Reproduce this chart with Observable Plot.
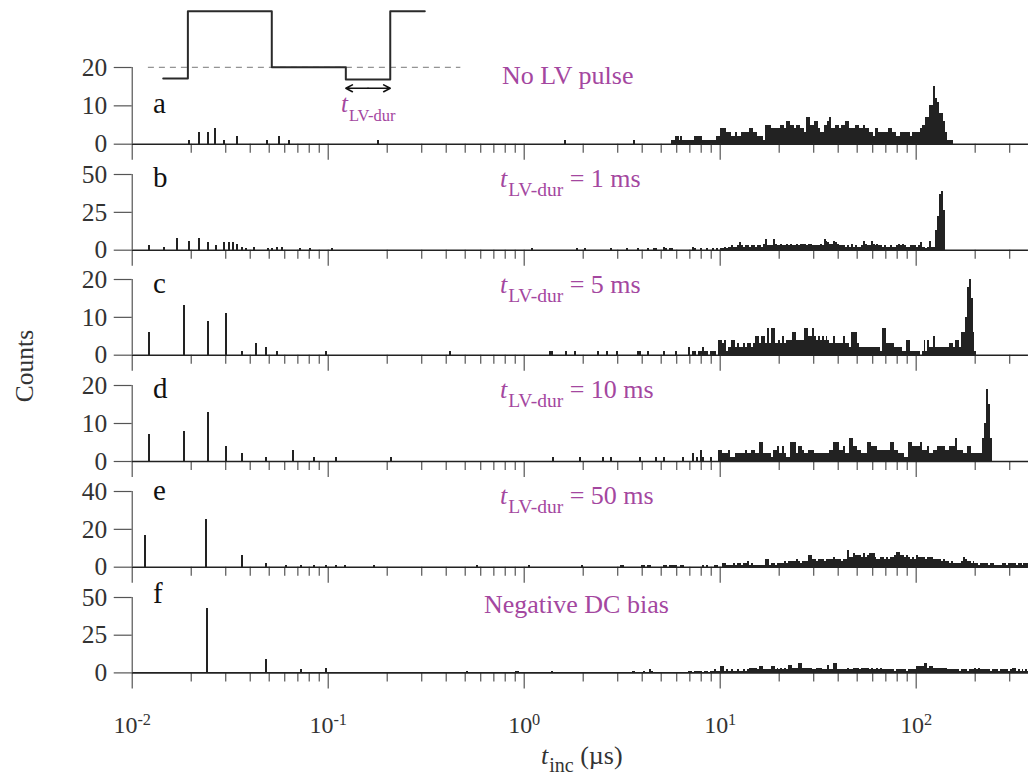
<!DOCTYPE html>
<html><head><meta charset="utf-8">
<script src="https://cdn.jsdelivr.net/npm/d3@7"></script>
<script src="https://cdn.jsdelivr.net/npm/@observablehq/plot@0.6"></script>
<style>
body{margin:0;background:#fff;}
#chart{position:relative;width:1028px;height:780px;overflow:hidden;background:#fff;}
#chart svg{position:absolute;left:0;}
</style></head><body><div id="chart"></div><script>
// ---------------- data ----------------
const binsPerDecade = 100;      // log-spaced histogram bins
const tStart = 0.01;            // µs, left edge of axis / bin 0
const tEnd = 374;
const panelLetters = ["a", "b", "c", "d", "e", "f"];
const panelNotes = ["No LV pulse", "= 1 ms", "= 5 ms", "= 10 ms", "= 50 ms", "Negative DC bias"];
const noteHasT = [false, true, true, true, true, false];
const yMax = [20, 50, 20, 20, 40, 50];
const yTicks = [[0, 10, 20], [0, 25, 50], [0, 10, 20], [0, 10, 20], [0, 20, 40], [0, 25, 50]];
const majorTicks = [0.01, 0.1, 1, 10, 100];
const minorTicks = [0.02,0.03,0.04,0.05,0.06,0.07,0.08,0.09,0.2,0.3,0.4,0.5,0.6,0.7,0.8,0.9,2,3,4,5,6,7,8,9,20,30,40,50,60,70,80,90,200,300];

// isolated spikes: times (µs) and counts
const spikeT_a = [0.0197,0.0221,0.0244,0.0267,0.0296,0.0343,0.0488,0.0566,0.0637,0.18,1.62,3.67];
const spikeN_a = [1,3,3,4,1,2,1,2,1,1,1,1];
const spikeT_b = [0.01225,0.01467,0.0171,0.01954,0.0221,0.0244,0.0268,0.0296,0.0313,0.0328,0.0343,0.0364,0.0382,0.0421,0.0498,0.0518,0.0549,0.0582,0.0722,0.0812,0.1056,1.106,1.864,2.055];
const spikeN_b = [3,2,8,6,8,5,3,5,5,5,4,2,1,2,1,1,2,2,1,1,1,1,1,1];
const spikeT_c = [0.01225,0.01842,0.0246,0.0304,0.0365,0.0431,0.0486,0.0549,0.0984,0.419,1.367,1.39,1.643,1.827,2.403];
const spikeN_c = [6,13,9,11,1,3,2,1,1,1,1,1,1,1,1];
const spikeT_d = [0.01225,0.01842,0.0246,0.0304,0.0365,0.0486,0.0668,0.0854,0.1106,0.2097,1.416,1.945];
const spikeN_d = [7,8,13,4,2,1,3,1,1,1,1,1];
const spikeT_e = [0.01169,0.02385,0.0365,0.0486,0.0611,0.0731,0.0854,0.098,0.1099,0.1229,0.1717,0.5777,1.064,1.976];
const spikeN_e = [17,25,6,2,1,1,1,1,1,1,1,1,1,1];
const spikeT_f = [0.02413,0.0486,0.0731,0.098,0.512,0.91,0.93,1.39];
const spikeN_f = [43,9,2,3,1,1,1,1];

// contiguous histogram bins: first bin index, then counts per bin
const denseStart_a = 275;
const dense_a = [1,1,2,2,1,2,1,1,1,1,1,1,2,2,2,2,1,1,1,1,1,1,1,2,2,4,4,4,3,3,3,2,2,3,2,2,3,3,3,3,4,4,3,3,2,2,2,1,5,5,5,4,4,4,4,4,5,5,4,6,6,5,5,4,5,5,4,4,3,7,7,5,5,6,6,4,3,3,5,5,6,7,4,4,5,5,4,5,5,6,6,4,4,4,5,5,4,4,5,4,4,3,3,2,4,4,3,3,3,3,3,4,4,3,3,2,2,3,3,3,3,3,2,3,3,3,3,4,5,5,7,7,10,10,15,12,11,8,8,6,3,1,1,1];
const denseStart_b = 244;
const dense_b = [1,0,0,0,0,0,0,0,1,0,0,0,0,0,1,0,0,0,0,1,0,0,1,1,0,0,0,2,1,0,1,1,0,0,0,0,0,0,0,0,0,0,2,1,0,0,1,0,0,1,0,0,1,0,1,0,1,1,2,1,2,2,3,2,2,3,5,3,2,3,3,2,3,3,2,3,3,2,4,7,3,3,3,7,4,3,3,4,3,3,4,3,4,3,3,4,3,4,4,4,3,4,4,3,3,3,3,4,3,7,6,5,4,4,6,5,4,3,3,3,2,3,2,4,2,3,2,2,3,6,4,3,3,6,4,3,4,3,3,2,3,2,2,3,2,2,3,4,3,4,3,2,2,3,3,3,2,3,5,2,2,1,2,6,2,2,13,22,37,39,26];
const denseStart_c = 242;
const dense_c = [1,0,0,0,0,1,0,0,0,0,0,0,0,0,0,0,1,1,0,0,0,1,0,0,0,0,0,0,0,1,0,0,0,0,0,1,0,0,0,0,0,0,2,0,1,1,0,1,1,2,1,1,0,1,1,1,0,4,4,3,4,1,2,2,4,4,2,3,2,2,3,2,3,3,2,3,5,5,3,5,5,3,7,3,7,7,3,3,4,3,5,3,4,4,4,6,6,4,4,4,4,7,7,5,5,7,5,4,5,4,5,4,5,4,3,3,5,3,3,3,3,5,3,3,2,6,6,6,3,2,2,2,2,2,2,2,2,2,2,2,1,7,7,3,3,3,3,2,2,2,2,1,1,4,4,1,1,1,1,1,0,1,4,1,4,2,2,5,2,2,2,2,2,2,2,3,3,2,4,4,2,6,6,10,18,20,15,6,1];
const denseStart_d = 240;
const dense_d = [1,0,0,0,1,0,0,0,0,0,0,0,0,0,0,0,0,0,0,1,0,0,0,0,0,0,0,1,0,0,0,1,0,0,0,0,0,0,0,0,0,1,0,0,0,0,2,0,1,0,3,1,0,0,0,1,0,0,0,3,3,2,2,2,3,1,1,1,2,2,2,2,2,3,2,2,3,3,2,2,5,5,2,2,2,2,1,3,3,4,2,2,4,2,1,1,5,5,5,2,4,4,3,2,2,3,3,3,2,2,2,2,2,2,2,2,3,3,5,5,5,3,3,4,2,2,6,6,4,4,3,3,2,2,2,5,5,4,4,4,3,3,3,3,3,3,3,5,5,3,3,2,2,2,1,1,5,5,4,4,4,4,5,3,3,3,4,2,2,3,3,4,4,4,4,3,3,4,4,4,6,3,3,3,2,2,4,4,2,2,2,2,2,2,6,10,19,15,6];
const denseStart_e = 249;
const dense_e = [1,1,0,0,0,0,0,0,0,0,0,1,1,0,1,1,0,0,0,0,0,0,1,1,0,1,1,1,1,0,0,1,1,0,0,0,0,0,0,0,0,0,1,0,1,0,0,0,1,1,0,0,2,2,1,1,1,1,2,1,2,2,1,2,2,3,1,2,1,1,1,1,1,1,4,4,1,2,2,1,2,2,2,2,3,2,3,3,3,3,4,3,2,3,3,3,6,6,4,4,3,4,4,4,3,4,4,4,4,5,4,4,4,3,4,4,9,5,5,7,6,6,6,5,7,5,6,7,7,7,5,4,4,5,5,4,5,4,5,5,6,8,8,6,6,5,6,5,4,5,4,6,5,5,5,5,4,5,5,5,4,4,4,4,3,4,3,3,2,3,2,2,2,2,3,5,4,3,3,2,3,2,2,1,2,2,2,2,1,2,2,1,1,1,1,2,2,1,2,2,2,2,1,2,2,1,2,2,2];
const denseStart_f = 255;
const dense_f = [1,1,0,0,0,0,1,0,0,2,1,0,0,0,0,0,0,0,0,0,0,0,0,0,0,0,0,0,0,1,1,0,1,1,1,1,0,1,1,0,1,1,2,1,1,4,4,1,2,1,1,2,1,1,2,1,1,2,1,2,3,3,3,3,2,4,4,2,2,2,2,4,4,2,3,2,3,2,3,2,5,5,3,3,3,6,6,3,3,3,3,3,2,2,3,3,3,2,2,2,5,2,2,6,6,2,2,2,2,2,3,2,2,3,3,3,2,3,3,3,3,2,3,2,2,3,2,3,2,2,2,2,2,2,1,2,2,2,2,2,1,2,2,2,2,4,4,4,4,6,6,3,4,4,3,3,3,3,3,3,3,2,2,2,2,2,2,1,2,2,2,1,2,2,2,3,2,3,2,2,2,2,2,1,2,2,2,1,2,2,2,2,1,2,3,3,1,2,1,2,1,2,1];

const spikeT = [spikeT_a, spikeT_b, spikeT_c, spikeT_d, spikeT_e, spikeT_f];
const spikeN = [spikeN_a, spikeN_b, spikeN_c, spikeN_d, spikeN_e, spikeN_f];
const denseStart = [denseStart_a, denseStart_b, denseStart_c, denseStart_d, denseStart_e, denseStart_f];
const dense = [dense_a, dense_b, dense_c, dense_d, dense_e, dense_f];

// schematic pulse (arbitrary units)
const pulseT = [0, 1, 1, 4.4, 4.4, 7.4, 7.4, 9.2, 9.2, 10.6];
const pulseV = [-0.2, -0.2, 1, 1, 0, 0, -0.22, -0.22, 1, 1];
const pulseRefSpan = [-0.6, 12.06];
const lvDurSpan = [7.4, 9.2];

// ---------------- layout ----------------
const FONT = '"Liberation Serif", "Times New Roman", Times, serif';
const PURPLE = "#a4479f";
const INK = "#222";
const AX = "#555";
const plotLeft = 131.7;
const panelTop = [67.3, 174, 279.3, 385.3, 491.3, 597.3];
const panelZero = [144, 249.7, 355, 461.3, 567, 672.7];
const letterBase = [113, 187, 293, 398, 500, 603];
const noteBase = [83.5, 187, 293, 398, 504, 613];
const noteX = [502, 500, 500, 500, 500, 484];

const chart = document.getElementById("chart");
const half = 0.5 / binsPerDecade;

function rowsFor(i) {
  const rows = [];
  spikeT[i].forEach((t, k) => rows.push({t, n: spikeN[i][k]}));
  dense[i].forEach((n, k) => {
    if (n > 0) rows.push({t: tStart * Math.pow(10, (denseStart[i] + k + 0.5) / binsPerDecade), n});
  });
  return rows;
}

for (let i = 0; i < 6; i++) {
  const mt = 10, mb = 70;
  const H = (panelZero[i] - panelTop[i]) + mt + mb;
  const last = i === 5;
  const svg = Plot.plot({
    width: 1028, height: H,
    marginLeft: plotLeft, marginRight: 0, marginTop: mt, marginBottom: mb,
    style: {fontFamily: FONT, fontSize: "25px", background: "transparent", overflow: "visible", color: "#333"},
    x: {type: "log", domain: [tStart, tEnd], axis: null},
    y: {domain: [0, yMax[i]], axis: null},
    marks: [
      Plot.rectY(rowsFor(i), {
        x1: d => d.t * Math.pow(10, -half), x2: d => d.t * Math.pow(10, half), y: "n",
        fill: INK, shapeRendering: "crispEdges"
      }),
      Plot.axisX(minorTicks, {anchor: "bottom", label: null, tickSize: 9, tickFormat: () => "", stroke: AX, strokeWidth: 1.2}),
      Plot.axisX(majorTicks, {
        anchor: "bottom", label: null, tickSize: 16, tickPadding: last ? 27 : 3, stroke: AX, strokeWidth: 1.2,
        fill: "#333", fontSize: 24, fontFamily: FONT,
        tickFormat: last ? (d => "10|" + Math.round(Math.log10(d))) : (() => "")
      }),
      Plot.ruleY([0], {stroke: INK, strokeWidth: 1.6}),
      Plot.ruleX([tStart], {y1: 0, y2: yMax[i], stroke: AX, strokeWidth: 1.2}),
      Plot.axisY(yTicks[i], {anchor: "left", label: null, tickSize: 18, tickPadding: 7, stroke: AX, strokeWidth: 1.2, fill: "#333", fontSize: 25.5, fontFamily: FONT})
    ]
  });
  svg.style.top = (panelTop[i] - mt) + "px";
  chart.appendChild(svg);
  if (last) {
    d3.select(svg).selectAll("text").each(function () {
      const s = this.textContent;
      if (s.includes("|")) {
        const [base, exp] = s.split("|");
        const el = d3.select(this);
        el.text(null);
        el.append("tspan").text(base);
        el.append("tspan").attr("dy", "-0.48em").attr("font-size", "0.68em").text(exp);
      }
    });
  }
}

// schematic pulse inset
const lvMid = (lvDurSpan[0] + lvDurSpan[1]) / 2;
const inset = Plot.plot({
  width: 1028, height: 100,
  marginLeft: 162.7, marginRight: 1028 - 424.3, marginTop: 10.7, marginBottom: 22,
  style: {background: "transparent", overflow: "visible"},
  x: {domain: [0, 10.6], axis: null},
  y: {domain: [-0.2, 1], axis: null},
  marks: [
    Plot.ruleY([0], {x1: pulseRefSpan[0], x2: pulseRefSpan[1], stroke: "#777", strokeWidth: 1, strokeDasharray: "6,5"}),
    Plot.line(pulseT.map((t, k) => ({t, v: pulseV[k]})), {x: "t", y: "v", stroke: "#2a2a2a", strokeWidth: 2}),
    Plot.arrow([{a: lvMid, b: lvDurSpan[0]}, {a: lvMid, b: lvDurSpan[1]}], {x1: "a", x2: "b", y1: () => -0.375, y2: () => -0.375, stroke: "#111", strokeWidth: 1.6, headLength: 9, headAngle: 55})
  ]
});
inset.style.top = "0px";
chart.appendChild(inset);

// text overlay
const ov = d3.select(chart).append("svg").attr("width", 1028).attr("height", 780)
  .style("top", "0px").style("font-family", FONT);
ov.append("text").attr("transform", "translate(33,366) rotate(-90)").attr("text-anchor", "middle")
  .attr("font-size", 25.5).attr("fill", "#333").text("Counts");
for (let i = 0; i < 6; i++) {
  ov.append("text").attr("x", 153).attr("y", letterBase[i]).attr("font-size", 29).attr("fill", "#111").text(panelLetters[i]);
  const t = ov.append("text").attr("x", noteX[i]).attr("y", noteBase[i]).attr("font-size", 26).attr("fill", PURPLE);
  if (noteHasT[i]) {
    t.append("tspan").attr("font-style", "italic").text("t");
    t.append("tspan").attr("font-size", 19.5).attr("dy", 9).attr("dx", 1).text("LV-dur");
    t.append("tspan").attr("dy", -9).text(" " + panelNotes[i]);
  } else {
    t.text(panelNotes[i]);
  }
}
// inset label
const il = ov.append("text").attr("x", 341).attr("y", 112).attr("font-size", 25).attr("fill", PURPLE);
il.append("tspan").attr("font-style", "italic").text("t");
il.append("tspan").attr("font-size", 16.5).attr("dy", 9).attr("dx", 1).text("LV-dur");
// x label
const xl = ov.append("text").attr("x", 541).attr("y", 764).attr("font-size", 26).attr("fill", "#333");
xl.append("tspan").attr("font-style", "italic").text("t");
xl.append("tspan").attr("font-size", 20).attr("dy", 8).attr("dx", 1).text("inc");
xl.append("tspan").attr("dy", -8).text(" (µs)");
</script></body></html>
